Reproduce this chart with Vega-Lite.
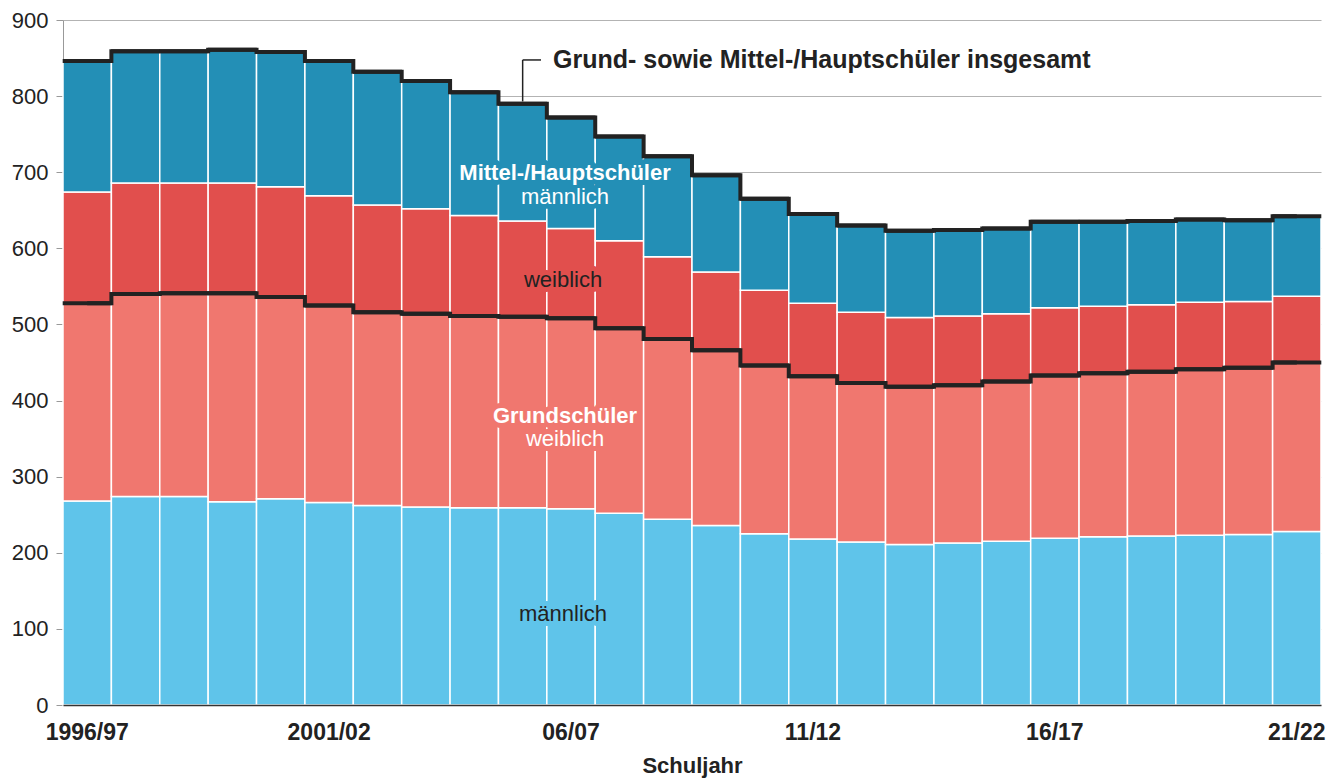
{
  "$schema": "https://vega.github.io/schema/vega-lite/v6.json",
  "width": 1258,
  "height": 685,
  "autosize": {"type": "none"},
  "padding": {"left": 63, "top": 20, "right": 9, "bottom": 73},
  "background": "white",
  "config": {"view": {"stroke": null}, "font": "Liberation Sans"},
  "datasets": {
    "schueler": [
      {"year": "1996/97", "Grundschüler männlich": 268, "Grundschüler weiblich": 260, "Mittel-/Hauptschüler weiblich": 146, "Mittel-/Hauptschüler männlich": 172},
      {"year": "1997/98", "Grundschüler männlich": 274, "Grundschüler weiblich": 266, "Mittel-/Hauptschüler weiblich": 146, "Mittel-/Hauptschüler männlich": 173},
      {"year": "1998/99", "Grundschüler männlich": 274, "Grundschüler weiblich": 267, "Mittel-/Hauptschüler weiblich": 145, "Mittel-/Hauptschüler männlich": 173},
      {"year": "1999/00", "Grundschüler männlich": 267, "Grundschüler weiblich": 274, "Mittel-/Hauptschüler weiblich": 145, "Mittel-/Hauptschüler männlich": 175},
      {"year": "2000/01", "Grundschüler männlich": 271, "Grundschüler weiblich": 265, "Mittel-/Hauptschüler weiblich": 145, "Mittel-/Hauptschüler männlich": 177},
      {"year": "2001/02", "Grundschüler männlich": 266, "Grundschüler weiblich": 259, "Mittel-/Hauptschüler weiblich": 144, "Mittel-/Hauptschüler männlich": 177},
      {"year": "2002/03", "Grundschüler männlich": 262, "Grundschüler weiblich": 254, "Mittel-/Hauptschüler weiblich": 141, "Mittel-/Hauptschüler männlich": 175},
      {"year": "2003/04", "Grundschüler männlich": 260, "Grundschüler weiblich": 254, "Mittel-/Hauptschüler weiblich": 138, "Mittel-/Hauptschüler männlich": 168},
      {"year": "2004/05", "Grundschüler männlich": 259, "Grundschüler weiblich": 252, "Mittel-/Hauptschüler weiblich": 132, "Mittel-/Hauptschüler männlich": 162},
      {"year": "2005/06", "Grundschüler männlich": 259, "Grundschüler weiblich": 251, "Mittel-/Hauptschüler weiblich": 126, "Mittel-/Hauptschüler männlich": 154},
      {"year": "2006/07", "Grundschüler männlich": 258, "Grundschüler weiblich": 250, "Mittel-/Hauptschüler weiblich": 118, "Mittel-/Hauptschüler männlich": 146},
      {"year": "2007/08", "Grundschüler männlich": 252, "Grundschüler weiblich": 243, "Mittel-/Hauptschüler weiblich": 115, "Mittel-/Hauptschüler männlich": 137},
      {"year": "2008/09", "Grundschüler männlich": 244, "Grundschüler weiblich": 237, "Mittel-/Hauptschüler weiblich": 108, "Mittel-/Hauptschüler männlich": 132},
      {"year": "2009/10", "Grundschüler männlich": 236, "Grundschüler weiblich": 230, "Mittel-/Hauptschüler weiblich": 103, "Mittel-/Hauptschüler männlich": 127},
      {"year": "2010/11", "Grundschüler männlich": 225, "Grundschüler weiblich": 221, "Mittel-/Hauptschüler weiblich": 99, "Mittel-/Hauptschüler männlich": 120},
      {"year": "2011/12", "Grundschüler männlich": 218, "Grundschüler weiblich": 214, "Mittel-/Hauptschüler weiblich": 96, "Mittel-/Hauptschüler männlich": 117},
      {"year": "2012/13", "Grundschüler männlich": 214, "Grundschüler weiblich": 209, "Mittel-/Hauptschüler weiblich": 93, "Mittel-/Hauptschüler männlich": 114},
      {"year": "2013/14", "Grundschüler männlich": 211, "Grundschüler weiblich": 207, "Mittel-/Hauptschüler weiblich": 91, "Mittel-/Hauptschüler männlich": 114},
      {"year": "2014/15", "Grundschüler männlich": 213, "Grundschüler weiblich": 207, "Mittel-/Hauptschüler weiblich": 91, "Mittel-/Hauptschüler männlich": 113},
      {"year": "2015/16", "Grundschüler männlich": 215, "Grundschüler weiblich": 210, "Mittel-/Hauptschüler weiblich": 89, "Mittel-/Hauptschüler männlich": 112},
      {"year": "2016/17", "Grundschüler männlich": 219, "Grundschüler weiblich": 214, "Mittel-/Hauptschüler weiblich": 89, "Mittel-/Hauptschüler männlich": 113},
      {"year": "2017/18", "Grundschüler männlich": 221, "Grundschüler weiblich": 215, "Mittel-/Hauptschüler weiblich": 88, "Mittel-/Hauptschüler männlich": 111},
      {"year": "2018/19", "Grundschüler männlich": 222, "Grundschüler weiblich": 216, "Mittel-/Hauptschüler weiblich": 88, "Mittel-/Hauptschüler männlich": 110},
      {"year": "2019/20", "Grundschüler männlich": 223, "Grundschüler weiblich": 218, "Mittel-/Hauptschüler weiblich": 88, "Mittel-/Hauptschüler männlich": 109},
      {"year": "2020/21", "Grundschüler männlich": 224, "Grundschüler weiblich": 219, "Mittel-/Hauptschüler weiblich": 87, "Mittel-/Hauptschüler männlich": 107},
      {"year": "2021/22", "Grundschüler männlich": 228, "Grundschüler weiblich": 222, "Mittel-/Hauptschüler weiblich": 87, "Mittel-/Hauptschüler männlich": 105}
    ]
  },
  "encoding": {
    "x": {
      "field": "year",
      "type": "ordinal",
      "scale": {
        "domain": ["1996/97","1997/98","1998/99","1999/00","2000/01","2001/02","2002/03","2003/04","2004/05","2005/06","2006/07","2007/08","2008/09","2009/10","2010/11","2011/12","2012/13","2013/14","2014/15","2015/16","2016/17","2017/18","2018/19","2019/20","2020/21","2021/22"],
        "paddingInner": 0,
        "paddingOuter": 0
      },
      "axis": {
        "title": "Schuljahr",
        "titleFont": "Liberation Sans",
        "titleFontSize": 22,
        "titleFontWeight": "bold",
        "titleColor": "#222",
        "titlePadding": 11,
        "labelAngle": 0,
        "labelFont": "Liberation Sans",
        "labelFontSize": 23,
        "labelFontWeight": "bold",
        "labelColor": "#222",
        "labelPadding": 16,
        "labelOverlap": false,
        "labelExpr": "datum.value == '1996/97' || datum.value == '2001/02' ? datum.value : (indexof(['2006/07','2011/12','2016/17','2021/22'], datum.value) >= 0 ? substring(datum.value, 2) : '')",
        "ticks": false,
        "domainColor": "#333",
        "domainWidth": 1.5,
        "zindex": 1
      }
    }
  },
  "layer": [
    {
      "data": {"name": "schueler"},
      "transform": [
        {"fold": ["Grundschüler männlich", "Grundschüler weiblich", "Mittel-/Hauptschüler weiblich", "Mittel-/Hauptschüler männlich"], "as": ["series", "value"]},
        {"stack": "value", "groupby": ["year"], "as": ["v0", "v1"]}
      ],
      "layer": [
        {
          "mark": {"type": "bar", "stroke": "white", "strokeWidth": 1.5},
          "encoding": {
            "y": {
              "field": "v1",
              "type": "quantitative",
              "scale": {"domain": [0, 900], "nice": false},
              "axis": {
                "title": null,
                "values": [0, 100, 200, 300, 400, 500, 600, 700, 800, 900],
                "labelFont": "Liberation Sans",
                "labelFontSize": 22,
                "labelColor": "#222",
                "labelPadding": 8,
                "tickSize": 7,
                "tickColor": "#999",
                "domainColor": "#999",
                "gridColor": "#b3b3b3",
                "gridWidth": 1.2
              }
            },
            "y2": {"field": "v0"},
            "color": {
              "field": "series",
              "type": "nominal",
              "scale": {
                "domain": ["Grundschüler männlich", "Grundschüler weiblich", "Mittel-/Hauptschüler weiblich", "Mittel-/Hauptschüler männlich"],
                "range": ["#5FC4EA", "#F0776F", "#E14F4D", "#238FB6"]
              },
              "legend": null
            }
          }
        },
        {
          "transform": [{"filter": {"field": "series", "oneOf": ["Grundschüler weiblich", "Mittel-/Hauptschüler männlich"]}}],
          "mark": {"type": "line", "interpolate": "step", "color": "#222", "strokeWidth": 4, "strokeJoin": "miter"},
          "encoding": {
            "y": {"field": "v1", "type": "quantitative"},
            "detail": {"field": "series"}
          }
        },
        {
          "transform": [{"filter": {"field": "series", "oneOf": ["Grundschüler weiblich", "Mittel-/Hauptschüler männlich"]}}],
          "mark": {"type": "tick", "color": "#222", "thickness": 4, "size": 49, "opacity": 1},
          "encoding": {
            "y": {"field": "v1", "type": "quantitative"}
          }
        }
      ]
    },
    {
      "data": {"values": [{"t": "Mittel-/Hauptschüler", "year": "2006/07", "v": 699}]},
      "mark": {"type": "text", "font": "Liberation Sans", "fontSize": 22, "fontWeight": "bold", "fill": "#238FB6", "stroke": "#238FB6", "strokeWidth": 10, "strokeJoin": "round", "align": "center", "baseline": "middle", "dx": -6},
      "encoding": {"y": {"field": "v", "type": "quantitative"}, "text": {"field": "t"}}
    },
    {
      "data": {"values": [{"t": "männlich", "year": "2006/07", "v": 667}]},
      "mark": {"type": "text", "font": "Liberation Sans", "fontSize": 22, "fill": "#238FB6", "stroke": "#238FB6", "strokeWidth": 10, "strokeJoin": "round", "align": "center", "baseline": "middle", "dx": -6},
      "encoding": {"y": {"field": "v", "type": "quantitative"}, "text": {"field": "t"}}
    },
    {
      "data": {"values": [{"t": "weiblich", "year": "2006/07", "v": 559}]},
      "mark": {"type": "text", "font": "Liberation Sans", "fontSize": 22, "fill": "#E14F4D", "stroke": "#E14F4D", "strokeWidth": 10, "strokeJoin": "round", "align": "center", "baseline": "middle", "dx": -8},
      "encoding": {"y": {"field": "v", "type": "quantitative"}, "text": {"field": "t"}}
    },
    {
      "data": {"values": [{"t": "Grundschüler", "year": "2006/07", "v": 380}]},
      "mark": {"type": "text", "font": "Liberation Sans", "fontSize": 22, "fontWeight": "bold", "fill": "#F0776F", "stroke": "#F0776F", "strokeWidth": 10, "strokeJoin": "round", "align": "center", "baseline": "middle", "dx": -6},
      "encoding": {"y": {"field": "v", "type": "quantitative"}, "text": {"field": "t"}}
    },
    {
      "data": {"values": [{"t": "weiblich", "year": "2006/07", "v": 350}]},
      "mark": {"type": "text", "font": "Liberation Sans", "fontSize": 22, "fill": "#F0776F", "stroke": "#F0776F", "strokeWidth": 10, "strokeJoin": "round", "align": "center", "baseline": "middle", "dx": -6},
      "encoding": {"y": {"field": "v", "type": "quantitative"}, "text": {"field": "t"}}
    },
    {
      "data": {"values": [{"t": "männlich", "year": "2006/07", "v": 119}]},
      "mark": {"type": "text", "font": "Liberation Sans", "fontSize": 22, "fill": "#5FC4EA", "stroke": "#5FC4EA", "strokeWidth": 10, "strokeJoin": "round", "align": "center", "baseline": "middle", "dx": -8},
      "encoding": {"y": {"field": "v", "type": "quantitative"}, "text": {"field": "t"}}
    },
    {
      "data": {"values": [{"t": "Mittel-/Hauptschüler", "year": "2006/07", "v": 699}, {"t": "Grundschüler", "year": "2006/07", "v": 380}]},
      "mark": {"type": "text", "font": "Liberation Sans", "fontSize": 22, "fontWeight": "bold", "color": "white", "align": "center", "baseline": "middle", "dx": -6},
      "encoding": {"y": {"field": "v", "type": "quantitative"}, "text": {"field": "t"}}
    },
    {
      "data": {"values": [{"t": "männlich", "year": "2006/07", "v": 667}, {"t": "weiblich", "year": "2006/07", "v": 350}]},
      "mark": {"type": "text", "font": "Liberation Sans", "fontSize": 22, "color": "white", "align": "center", "baseline": "middle", "dx": -6},
      "encoding": {"y": {"field": "v", "type": "quantitative"}, "text": {"field": "t"}}
    },
    {
      "data": {"values": [{"t": "weiblich", "year": "2006/07", "v": 559}, {"t": "männlich", "year": "2006/07", "v": 119}]},
      "mark": {"type": "text", "font": "Liberation Sans", "fontSize": 22, "color": "#222", "align": "center", "baseline": "middle", "dx": -8},
      "encoding": {"y": {"field": "v", "type": "quantitative"}, "text": {"field": "t"}}
    },
    {
      "data": {"values": [{"t": "Grund- sowie Mittel-/Hauptschüler insgesamt", "year": "2006/07", "v": 847}]},
      "mark": {"type": "text", "font": "Liberation Sans", "fontSize": 25, "fontWeight": "bold", "color": "#222", "align": "left", "baseline": "middle", "dx": -18},
      "encoding": {"y": {"field": "v", "type": "quantitative"}, "text": {"field": "t"}}
    },
    {
      "data": {"values": [{"year": "2005/06", "v": 793, "vtop": 847.5}]},
      "mark": {"type": "rule", "color": "#222", "strokeWidth": 1.5},
      "encoding": {"y": {"field": "v", "type": "quantitative"}, "y2": {"field": "vtop"}}
    },
    {
      "data": {"values": [{"year": "2005/06", "to": "2006/07", "v": 847.5}]},
      "mark": {"type": "rule", "color": "#222", "strokeWidth": 1.5, "x2Offset": -30},
      "encoding": {"y": {"field": "v", "type": "quantitative"}, "x2": {"field": "to"}}
    }
  ]
}
